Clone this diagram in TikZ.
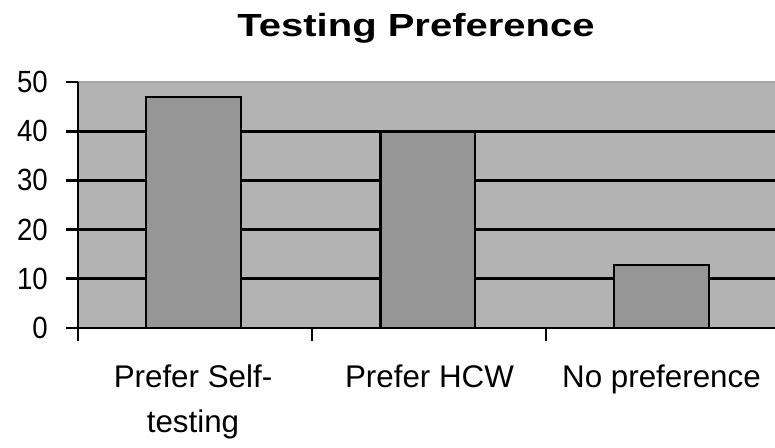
\documentclass[tikz,border=0pt]{standalone}
\usepackage{fontspec}
\setmainfont{Liberation Sans}
\newfontfamily\titlefont[FakeStretch=1.25]{Liberation Sans}
\newfontfamily\axisfont[FakeStretch=0.9]{Liberation Sans}
\usetikzlibrary{positioning}

\definecolor{plotgray}{RGB}{179,179,179}
\definecolor{bargray}{RGB}{150,150,150}

\tikzset{
  axisline/.style={line width=2.2pt},
  bar/.style={draw=black, line width=2.2pt, fill=bargray},
  ylabel/.style={anchor=east, inner sep=0pt, font=\axisfont\fontsize{23}{28}\selectfont},
  catlabel/.style={anchor=base, inner sep=0pt, font=\fontsize{23.5}{28}\selectfont},
}

\begin{document}
\begin{tikzpicture}[x=0.75pt, y=-0.75pt]
            \useasboundingbox (0,0) rectangle (775,447);

            \node[anchor=base, inner sep=0pt, font=\titlefont\bfseries\fontsize{24}{29}\selectfont] (title) at (416,36) {Testing Preference};

            % plot area and gridlines
            \fill[plotgray] (78,82) rectangle (775,328);
            \draw[line width=0.8pt, black!35] (78,82) -- (775,82);
            \foreach \gy in {131.2,180.4,229.6,278.8}
                \draw[axisline] (78,\gy) -- (775,\gy);

            % bars
            \draw[bar] (146,328) rectangle (241,97);
            \draw[bar] (380.5,328) rectangle (475,131.2);
            \draw[bar] (614,328) rectangle (709,265);

            % axes and ticks
            \draw[axisline] (78,82) -- (78,341);
            \draw[axisline] (66,328) -- (775,328);
            \foreach \gy in {82,131.2,180.4,229.6,278.8}
                \draw[axisline] (66,\gy) -- (78,\gy);
            \draw[axisline] (312,328) -- (312,341);
            \draw[axisline] (546,328) -- (546,341);

            \node[ylabel] (y50) at (48,82) {50};
            \node[ylabel] (y40) at (48,131.2) {40};
            \node[ylabel] (y30) at (48,180.4) {30};
            \node[ylabel] (y20) at (48,229.6) {20};
            \node[ylabel] (y10) at (48,278.8) {10};
            \node[ylabel] (y0) at (48,328) {0};

            \node[catlabel] (self) at (193,387) {Prefer Self-};
            \node[catlabel] (selfb) at (193,432) {testing};
            \node[catlabel] (hcw) at (429.5,387) {Prefer HCW};
            \node[catlabel] (nopref) at (661.5,387) {No preference};
\end{tikzpicture}
\end{document}
